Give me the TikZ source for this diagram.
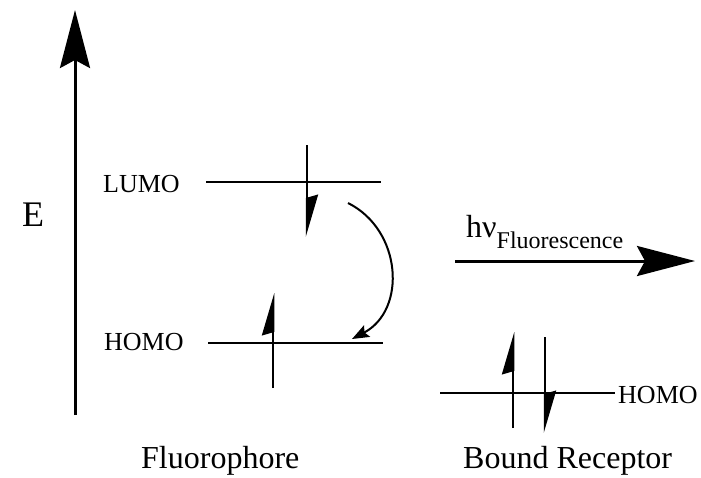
\documentclass[tikz,border=0pt]{standalone}
\usepackage{fontspec}
\setmainfont{Liberation Serif}
\usetikzlibrary{arrows.meta}

\tikzset{
  orbital/.style={line width=2.5pt},
  spin/.style={line width=2.5pt, -{Stealth[harpoon, length=38pt, width=22pt, inset=3pt]}},
  bigarrow/.style={line width=3pt, -{Stealth[length=58pt, width=30pt, inset=8pt]}},
  transfer/.style={line width=2pt, -{Stealth[length=17pt, width=13pt, inset=3pt]}},
  levellabel/.style={inner sep=0pt, anchor=base west, font=\fontsize{26}{30}\selectfont},
  caption/.style={inner sep=0pt, anchor=base west, font=\fontsize{32}{36}\selectfont},
}

\begin{document}
\begin{tikzpicture}[x=1pt, y=-1pt, line join=round]
    \useasboundingbox (0,0) rectangle (701,477);

    % Energy axis
    \coordinate (Ebot) at (75,415);
    \coordinate (Etop) at (75,10);
    \draw[bigarrow] (Ebot) -- (Etop);
    \node[font=\fontsize{36}{40}\selectfont] (E) at (33,215) {E};

    % Fluorophore levels
    \coordinate (LUMOa) at (206,182);
    \coordinate (LUMOb) at (381,182);
    \coordinate (HOMOa) at (208,343);
    \coordinate (HOMOb) at (383,343);
    \draw[orbital] (LUMOa) -- (LUMOb);
    \draw[orbital] (HOMOa) -- (HOMOb);
    \node[levellabel] (lumo) at (103,192) {LUMO};
    \node[levellabel] (homo) at (104,350) {HOMO};

    % Fluorophore electrons
    \coordinate (e1s) at (307,145);
    \coordinate (e1t) at (307,237);
    \coordinate (e2s) at (273,388);
    \coordinate (e2t) at (273,293);
    \draw[spin] (e1s) -- (e1t);
    \draw[spin] (e2s) -- (e2t);

    % Electron transfer
    \coordinate (Ts) at (348,203);
    \coordinate (Tt) at (352,339);
    \draw[transfer] (Ts) .. controls (402,230) and (407,310) .. (Tt);

    % Emission
    \coordinate (hvs) at (455,261);
    \coordinate (hvt) at (695,261);
    \draw[bigarrow] (hvs) -- (hvt);
    \node[inner sep=0pt, anchor=base west, font=\fontsize{32}{36}\selectfont] (hv) at (466,237)
        {hν\raisebox{-11pt}{\fontsize{24}{28}\selectfont Fluorescence}};

    % Bound receptor level
    \coordinate (RHa) at (440,393);
    \coordinate (RHb) at (615,393);
    \draw[orbital] (RHa) -- (RHb);
    \node[levellabel] (rhomo) at (618,403) {HOMO};
    \coordinate (r1s) at (513,428);
    \coordinate (r1t) at (513,332);
    \coordinate (r2s) at (545,337);
    \coordinate (r2t) at (545,433);
    \draw[spin] (r1s) -- (r1t);
    \draw[spin] (r2s) -- (r2t);

    % Captions
    \node[caption] (fluor) at (141,468) {Fluorophore};
    \node[caption] (recep) at (463,468) {Bound Receptor};
\end{tikzpicture}
\end{document}
